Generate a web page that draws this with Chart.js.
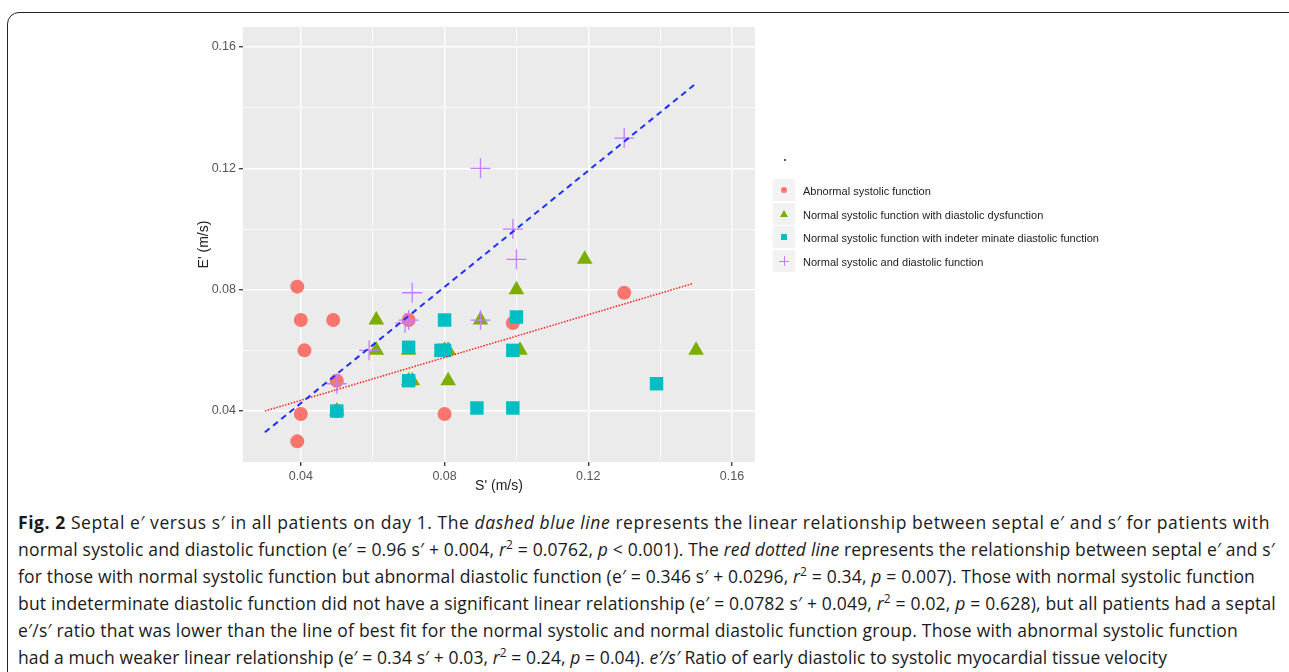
<!DOCTYPE html>
<html>
<head>
<meta charset="utf-8">
<script src="https://cdn.jsdelivr.net/npm/chart.js@4.4.1/dist/chart.umd.min.js"></script>
<style>
  body { margin: 0; background: #fff; width: 1289px; height: 672px; overflow: hidden; position: relative; }
  #frame { position: absolute; left: 7px; top: 12px; width: 1320px; height: 720px; border: 1.5px solid #222; border-radius: 12px; }
  #wrap { position: absolute; left: 0; top: 0; width: 1289px; height: 500px; }
  #legend { position: absolute; left: 773px; top: 179px; font-family: "Liberation Sans", Arial, sans-serif; font-size: 11px; color: #222; }
  .row { position: relative; height: 23.7px; }
  .key { position: absolute; left: 0; top: 0; width: 22px; height: 22px; background: #f2f2f2; }
  .lab { position: absolute; left: 30px; top: 6px; white-space: nowrap; }
  .mk { position: absolute; }
  #dot { position: absolute; left: 784px; top: 159px; width: 2px; height: 2px; background: #555; }
  #caption { position: absolute; left: 18px; top: 509px; font-family: "Open Sans", "Noto Sans", sans-serif; font-size: 17.5px; line-height: 27px; color: #1a1a1a; }
  #caption div { white-space: nowrap; }
  #caption span.ln { display: inline-block; }
  sup { font-size: 0.68em; line-height: 0; vertical-align: 0.55em; }
</style>
</head>
<body>
<div id="frame"></div>
<div id="wrap"><canvas id="chart"></canvas></div>
<div id="dot"></div>
<div id="legend"></div>
<div id="caption">
  <div><span class="ln"><b>Fig. 2</b> Septal e′ versus s′ in all patients on day 1. The <i>dashed blue line</i> represents the linear relationship between septal e′ and s′ for patients with</span></div>
  <div><span class="ln">normal systolic and diastolic function (e′ = 0.96 s′ + 0.004, <i>r</i><sup>2</sup> = 0.0762, <i>p</i> &lt; 0.001). The <i>red dotted line</i> represents the relationship between septal e′ and s′</span></div>
  <div><span class="ln">for those with normal systolic function but abnormal diastolic function (e′ = 0.346 s′ + 0.0296, <i>r</i><sup>2</sup> = 0.34, <i>p</i> = 0.007). Those with normal systolic function</span></div>
  <div><span class="ln">but indeterminate diastolic function did not have a significant linear relationship (e′ = 0.0782 s′ + 0.049, <i>r</i><sup>2</sup> = 0.02, <i>p</i> = 0.628), but all patients had a septal</span></div>
  <div><span class="ln">e′/s′ ratio that was lower than the line of best fit for the normal systolic and normal diastolic function group. Those with abnormal systolic function</span></div>
  <div><span class="ln">had a much weaker linear relationship (e′ = 0.34 s′ + 0.03, <i>r</i><sup>2</sup> = 0.24, <i>p</i> = 0.04). <i>e′/s′</i> Ratio of early diastolic to systolic myocardial tissue velocity</span></div>
</div>
<script>
// data (S', E' in m/s)
const groupNames = ['Abnormal systolic function', 'Normal systolic function with diastolic dysfunction', 'Normal systolic function with indeter minate diastolic function', 'Normal systolic and diastolic function'];

const abnormalS = [0.039, 0.040, 0.049, 0.041, 0.050, 0.050, 0.040, 0.039, 0.070, 0.080, 0.099, 0.130];
const abnormalE = [0.081, 0.070, 0.070, 0.060, 0.050, 0.040, 0.039, 0.030, 0.070, 0.039, 0.069, 0.079];

const diastS = [0.061, 0.061, 0.070, 0.070, 0.071, 0.080, 0.081, 0.081, 0.090, 0.100, 0.101, 0.119, 0.150, 0.050];
const diastE = [0.070, 0.060, 0.060, 0.050, 0.050, 0.060, 0.060, 0.050, 0.070, 0.080, 0.060, 0.090, 0.060, 0.040];

const indetS = [0.080, 0.100, 0.070, 0.079, 0.080, 0.099, 0.070, 0.050, 0.089, 0.099, 0.139];
const indetE = [0.070, 0.071, 0.061, 0.060, 0.060, 0.060, 0.050, 0.040, 0.041, 0.041, 0.049];

const normalS = [0.050, 0.059, 0.069, 0.070, 0.071, 0.090, 0.090, 0.099, 0.100, 0.130];
const normalE = [0.049, 0.060, 0.069, 0.070, 0.079, 0.070, 0.120, 0.100, 0.090, 0.130];

// fitted lines, end points
const blueFitS = [0.030, 0.150];
const blueFitE = [0.033, 0.148];
const redFitS = [0.030, 0.149];
const redFitE = [0.040, 0.082];

const tickLabels = ['0.04', '0.08', '0.12', '0.16'];

const colors = ['#F8766D', '#7CAE00', '#00BFC4', '#C77CFF'];

function pts(xs, ys) {
    return xs.map((x, i) => ({x: x, y: ys[i]}));
}

// grey panel like ggplot
const panelBg = {
    id: 'panelBg',
    beforeDraw(chart) {
        const a = chart.chartArea;
        const ctx = chart.ctx;
        ctx.save();
        ctx.fillStyle = '#EBEBEB';
        ctx.fillRect(a.left, a.top, a.right - a.left, a.bottom - a.top);
        ctx.restore();
    }
};

function isMajor(v) {
    return Math.round(v * 100) % 4 === 0;
}

function axis(title, min, max, fit) {
    return {
        type: 'linear',
        min: min,
        max: max,
        afterFit: fit,
        border: {display: false},
        grid: {
            color: ctx => '#ffffff',
            lineWidth: ctx => isMajor(ctx.tick.value) ? 1.4 : 0.7,
            tickColor: ctx => isMajor(ctx.tick.value) ? '#444' : 'rgba(0,0,0,0)',
            tickLength: 4,
            drawTicks: true
        },
        ticks: {
            stepSize: 0.02,
            includeBounds: false,
            autoSkip: false,
            maxRotation: 0,
            padding: 3,
            color: '#555',
            font: {family: 'Liberation Sans', size: 12.5},
            callback: v => {
                const s = v.toFixed(2);
                return isMajor(v) && tickLabels.includes(s) ? s : '';
            }
        },
        title: {
            display: true,
            text: title,
            color: '#222',
            font: {family: 'Liberation Sans', size: 14},
            padding: {top: 2, bottom: 3}
        }
    };
}

const ctx = document.getElementById('chart').getContext('2d');
const chart = new Chart(ctx, {
    type: 'scatter',
    data: {
        datasets: [{
            type: 'line',
            label: 'blue fit',
            data: pts(blueFitS, blueFitE),
            borderColor: '#1f2fff',
            borderWidth: 2,
            borderDash: [6, 4.5],
            pointRadius: 0,
            fill: false
        }, {
            type: 'line',
            label: 'red fit',
            data: pts(redFitS, redFitE),
            borderColor: '#ff1a1a',
            borderWidth: 1.5,
            borderDash: [1.5, 1.5],
            pointRadius: 0,
            fill: false
        }, {
            label: groupNames[3],
            data: pts(normalS, normalE),
            pointStyle: 'cross',
            pointRadius: 10,
            borderColor: colors[3],
            backgroundColor: colors[3],
            borderWidth: 1.3
        }, {
            label: groupNames[2],
            data: pts(indetS, indetE),
            pointStyle: 'rect',
            pointRadius: 9.5,
            backgroundColor: colors[2],
            borderWidth: 0
        }, {
            label: groupNames[1],
            data: pts(diastS, diastE),
            pointStyle: 'triangle',
            pointRadius: 9,
            backgroundColor: colors[1],
            borderWidth: 0
        }, {
            label: groupNames[0],
            data: pts(abnormalS, abnormalE),
            pointStyle: 'circle',
            pointRadius: 7,
            backgroundColor: colors[0],
            borderWidth: 0
        }]
    },
    options: {
        responsive: true,
        maintainAspectRatio: false,
        animation: false,
        events: [],
        layout: {padding: {left: 194, right: 534, top: 27, bottom: 2}},
        plugins: {legend: {display: false}, tooltip: {enabled: false}},
        scales: {
            x: axis("S' (m/s)", 0.0239, 0.1664, s => { s.height = 36; }),
            y: axis("E' (m/s)", 0.0232, 0.1666, s => { s.width = 49; })
        }
    },
    plugins: [panelBg]
});

// legend keys (html)
const legend = document.getElementById('legend');
const markers = [
    '<div class="mk" style="left:8px;top:8px;width:6px;height:6px;border-radius:50%;background:' + colors[0] + '"></div>',
    '<div class="mk" style="left:7px;top:7px;width:0;height:0;border-left:4px solid transparent;border-right:4px solid transparent;border-bottom:7px solid ' + colors[1] + '"></div>',
    '<div class="mk" style="left:8px;top:8px;width:6px;height:6px;background:' + colors[2] + '"></div>',
    '<div class="mk" style="left:6px;top:10.5px;width:10px;height:1px;background:' + colors[3] + '"></div><div class="mk" style="left:10.5px;top:6px;width:1px;height:10px;background:' + colors[3] + '"></div>'
];
groupNames.forEach((name, i) => {
    const row = document.createElement('div');
    row.className = 'row';
    row.innerHTML = '<div class="key">' + markers[i] + '</div><div class="lab">' + name + '</div>';
    legend.appendChild(row);
});

// squeeze caption lines to the widths in the figure
const captionWidths = [1252, 1257, 1237, 1258, 1220, 1149];
document.querySelectorAll('#caption span.ln').forEach((el, i) => {
    const w = el.getBoundingClientRect().width;
    const n = el.textContent.length;
    el.style.letterSpacing = ((captionWidths[i] - w) / n).toFixed(3) + 'px';
});
</script>
</body>
</html>
